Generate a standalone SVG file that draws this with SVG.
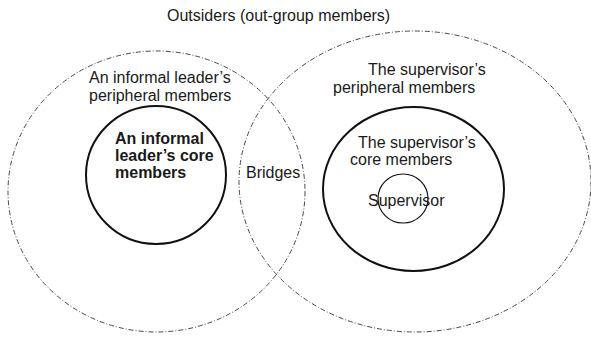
<svg xmlns="http://www.w3.org/2000/svg" width="591" height="338" viewBox="0 0 591 338">
<style>
.bg{fill:#ffffff}
.outer{fill:none;stroke:#333333;stroke-width:0.9;stroke-dasharray:5 2 1 2}
.core{fill:none;stroke:#111111;stroke-width:2}
.sup{fill:none;stroke:#111111;stroke-width:1.2}
text{font-family:"Liberation Sans",Arial,Helvetica,sans-serif;font-size:16px;fill:#1a1a1a}
.b{font-weight:bold}
</style>
<rect class="bg" x="0" y="0" width="591" height="338"/>
<g id="outsiders">
<text x="167" y="21">Outsiders (out-group members)</text>
</g>
<g id="leader-peripheral">
<ellipse class="outer" cx="156.5" cy="191.5" rx="148.5" ry="140.5"/>
<text x="89" y="83">An informal leader’s</text>
<text x="89" y="100.5">peripheral members</text>
</g>
<g id="supervisor-peripheral">
<ellipse class="outer" cx="415" cy="181.5" rx="176" ry="150.5"/>
<text x="368" y="75">The supervisor’s</text>
<text x="333" y="93">peripheral members</text>
</g>
<g id="leader-core">
<ellipse class="core" cx="156" cy="175" rx="70" ry="69"/>
<text class="b" x="115" y="144">An informal</text>
<text class="b" x="115" y="160.5">leader’s core</text>
<text class="b" x="115" y="177.5">members</text>
</g>
<g id="supervisor-core">
<ellipse class="core" cx="413.5" cy="189" rx="90.5" ry="82"/>
<text x="358" y="148">The supervisor’s</text>
<text x="350" y="165">core members</text>
</g>
<g id="supervisor">
<ellipse class="sup" cx="403" cy="198.5" rx="25" ry="24.5"/>
<text x="368" y="206">Supervisor</text>
</g>
<g id="bridges">
<text x="246" y="178">Bridges</text>
</g>
<g id="connectors"/>
</svg>
